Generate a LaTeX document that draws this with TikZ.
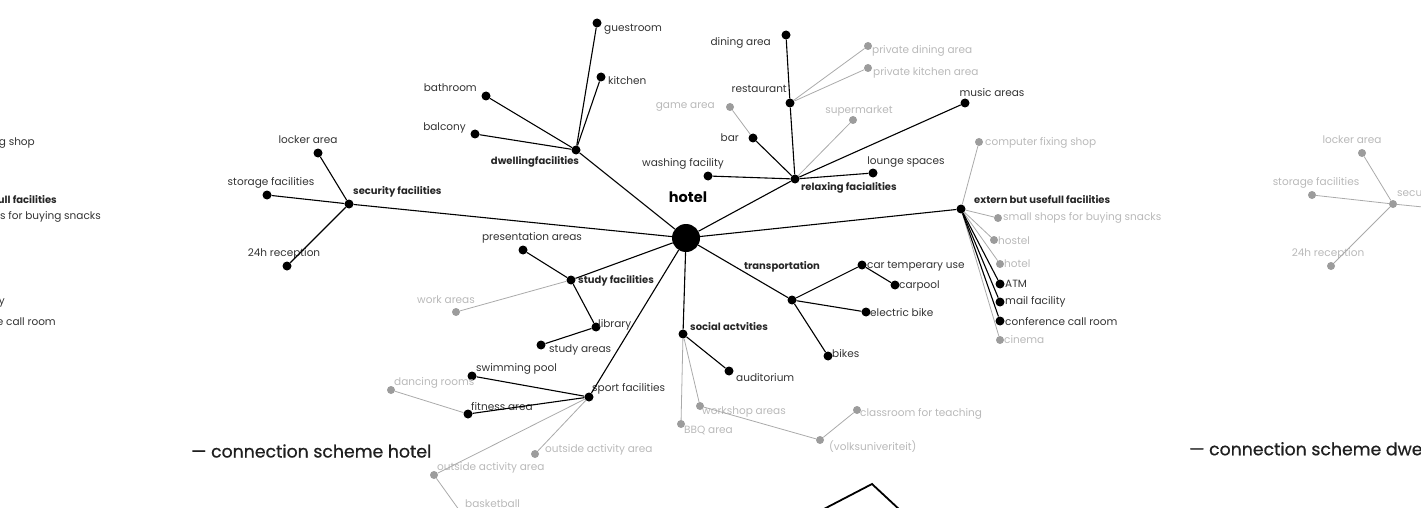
\documentclass[tikz,border=0pt]{standalone}
\usepackage{fontspec}
\setmainfont{Poppins}
\newfontfamily\titlefont{Poppins}[FakeBold=0.6]
\usetikzlibrary{positioning}
\definecolor{inkgray}{HTML}{333333}
\definecolor{palegray}{HTML}{B9B9B9}
\definecolor{dotgray}{HTML}{9C9C9C}
\definecolor{linegray}{HTML}{AAAAAA}

\begin{document}
\begin{tikzpicture}[x=1pt,y=-1pt,
    hub/.style={circle, fill=black, inner sep=0pt, minimum size=28pt},
    dot/.style={circle, fill=black, inner sep=0pt, minimum size=9pt},
    gdot/.style={circle, fill=dotgray, inner sep=0pt, minimum size=8pt},
    txt/.style={font=\fontsize{10.5}{12}\selectfont, text=inkgray, inner sep=0pt},
    gtxt/.style={txt, text=palegray},
    head/.style={font=\bfseries\fontsize{10}{12}\selectfont, text=black!85, inner sep=0pt},
    title/.style={font=\titlefont\fontsize{17.3}{20}\selectfont, text=black!88, inner sep=0pt},
    link/.style={line width=1.1pt, black},
    glink/.style={line width=0.8pt, linegray}
]
\useasboundingbox (0,0) rectangle (1421,508);
\clip (0,0) rectangle (1421,508);

% Left panel (cut off)
\node[txt, anchor=east] (lcomp) at (35,143) {computer fixing shop};
\node[head, anchor=east] (lext) at (57,200) {extern but usefull facilities};
\node[txt, anchor=east] (lsnack) at (101,217) {small shops for buying snacks};
\node[txt, anchor=east] (lmail) at (5,302) {mail facility};
\node[txt, anchor=east] (lconf) at (56,322) {conference call room};

% Hotel
\node[hub] (hotel) at (686,238) {};
\node[font=\bfseries\fontsize{14.5}{16}\selectfont, inner sep=0pt] (lhotel) at (688,197) {hotel};

% Security facilities
\node[dot] (sec) at (349,204) {};
\node[dot] (locker) at (318,153) {};
\node[dot] (storage) at (267,195) {};
\node[dot] (recep) at (287,266) {};
\node[head, anchor=west] (lsec) at (353,192) {security facilities};
\node[txt] (llocker) at (308,140) {locker area};
\node[txt] (lstorage) at (271,183) {storage facilities};
\node[txt] (lrecep) at (284,254) {24h reception};

% Dwelling facilities
\node[dot] (dwell) at (576,150) {};
\node[dot] (guest) at (597,23) {};
\node[dot] (kitchen) at (601,77) {};
\node[dot] (bath) at (486,96) {};
\node[dot] (balcony) at (475,134) {};
\node[head] (ldwell) at (535,162) {dwellingfacilities};
\node[txt, anchor=west] (lguest) at (604,29) {guestroom};
\node[txt, anchor=west] (lkitchen) at (608,81) {kitchen};
\node[txt, anchor=east] (lbath) at (477,88) {bathroom};
\node[txt, anchor=east] (lbalcony) at (466,128) {balcony};

% Relaxing facilities
\node[dot] (relax) at (795,179) {};
\node[dot] (rest) at (790,103) {};
\node[dot] (dining) at (786,35) {};
\node[gdot] (pdining) at (868,46) {};
\node[gdot] (pkitchen) at (868,68) {};
\node[gdot] (game) at (730,107) {};
\node[dot] (bar) at (753,138) {};
\node[gdot] (super) at (853,120) {};
\node[dot] (music) at (965,103) {};
\node[dot] (lounge) at (873,173) {};
\node[dot] (washing) at (708,176) {};
\node[head, anchor=west] (lrelax) at (801,188) {relaxing facialities};
\node[txt, anchor=east] (lrest) at (787,89) {restaurant};
\node[txt, anchor=east] (ldining) at (771,43) {dining area};
\node[gtxt, anchor=west] (lpdining) at (872,51) {private dining area};
\node[gtxt, anchor=west] (lpkitchen) at (873,73) {private kitchen area};
\node[gtxt, anchor=east] (lgame) at (715,107) {game area};
\node[txt, anchor=east] (lbar) at (739,138) {bar};
\node[gtxt] (lsuper) at (859,111) {supermarket};
\node[txt] (lmusic) at (992,93) {music areas};
\node[txt] (llounge) at (906,162) {lounge spaces};
\node[txt] (lwashing) at (683,164) {washing facility};

% Extern but usefull facilities
\node[dot] (ext) at (961,209) {};
\node[gdot] (comp) at (979,142) {};
\node[gdot] (snack) at (998,218) {};
\node[gdot] (hostel) at (994,240) {};
\node[gdot] (hotel2) at (1000,264) {};
\node[dot] (atm) at (1000,284) {};
\node[dot] (mail) at (1000,302) {};
\node[dot] (conf) at (1000,321) {};
\node[gdot] (cinema) at (1000,340) {};
\node[head, anchor=west] (lext2) at (974,200) {extern but usefull facilities};
\node[gtxt, anchor=west] (lcomp2) at (985,143) {computer fixing shop};
\node[gtxt, anchor=west] (lsnack2) at (1003,218) {small shops for buying snacks};
\node[gtxt, anchor=west] (lhostel) at (998,241) {hostel};
\node[gtxt, anchor=west] (lhotel2) at (1004,264) {hotel};
\node[txt, anchor=west] (latm) at (1005,284) {ATM};
\node[txt, anchor=west] (lmail2) at (1005,302) {mail facility};
\node[txt, anchor=west] (lconf2) at (1005,322) {conference call room};
\node[gtxt, anchor=west] (lcinema) at (1004,340) {cinema};

% Study facilities
\node[dot] (study) at (571,280) {};
\node[dot] (present) at (523,250) {};
\node[gdot] (work) at (456,312) {};
\node[dot] (library) at (596,327) {};
\node[dot] (studyar) at (541,345) {};
\node[head, anchor=west] (lstudy) at (578,281) {study facilities};
\node[txt] (lpresent) at (532,238) {presentation areas};
\node[gtxt] (lwork) at (446,300) {work areas};
\node[txt, anchor=west] (llibrary) at (598,325) {library};
\node[txt, anchor=west] (lstudyar) at (549,350) {study areas};

% Sport facilities
\node[dot] (sport) at (589,397) {};
\node[dot] (swim) at (472,376) {};
\node[dot] (fitness) at (468,414) {};
\node[gdot] (dancing) at (391,390) {};
\node[gdot] (outside1) at (535,454) {};
\node[gdot] (outside2) at (434,475) {};
\node[gdot] (basket) at (462,514) {};
\node[txt, anchor=west] (lsport) at (592,389) {sport facilities};
\node[txt, anchor=west] (lswim) at (476,369) {swimming pool};
\node[txt, anchor=west] (lfitness) at (471,407) {fitness area};
\node[gtxt, anchor=west] (ldancing) at (394,383) {dancing rooms};
\node[gtxt, anchor=west] (loutside1) at (545,450) {outside activity area};
\node[gtxt, anchor=west] (loutside2) at (437,468) {outside activity area};
\node[gtxt, anchor=west] (lbasket) at (465,504) {basketball};

% Social activities
\node[dot] (social) at (683,334) {};
\node[dot] (audit) at (729,371) {};
\node[gdot] (bbq) at (681,424) {};
\node[gdot] (workshop) at (700,406) {};
\node[gdot] (volks) at (820,440) {};
\node[gdot] (classroom) at (857,410) {};
\node[head, anchor=west] (lsocial) at (690,327) {social actvities};
\node[txt, anchor=west] (laudit) at (736,378) {auditorium};
\node[gtxt, anchor=west] (lbbq) at (684,430) {BBQ area};
\node[gtxt, anchor=west] (lworkshop) at (702,412) {workshop areas};
\node[gtxt, anchor=west] (lvolks) at (829,447) {(volksuniveriteit)};
\node[gtxt, anchor=west] (lclassroom) at (860,414) {classroom for teaching};

% Transportation
\node[dot] (transp) at (792,300) {};
\node[dot] (car) at (862,265) {};
\node[dot] (carpool) at (895,285) {};
\node[dot] (ebike) at (866,312) {};
\node[dot] (bikes) at (828,356) {};
\node[head] (ltransp) at (782,267) {transportation};
\node[txt, anchor=west] (lcar) at (867,266) {car temperary use};
\node[txt, anchor=west] (lcarpool) at (899,286) {carpool};
\node[txt, anchor=west] (lebike) at (870,313) {electric bike};
\node[txt, anchor=west] (lbikes) at (832,354) {bikes};

% Right panel (cut off)
\coordinate (hotel3) at (1730,238);
\node[gdot] (sec2) at (1393,204) {};
\node[gdot] (locker2) at (1362,153) {};
\node[gdot] (storage2) at (1312,195) {};
\node[gdot] (recep2) at (1331,266) {};
\node[gtxt, anchor=west] (lsec2) at (1397,194) {security facilities};
\node[gtxt] (llocker2) at (1352,140) {locker area};
\node[gtxt] (lstorage2) at (1316,183) {storage facilities};
\node[gtxt] (lrecep2) at (1328,254) {24h reception};

% Titles
\node[title, anchor=west] (title1) at (191,451) {— connection scheme hotel};
\node[title, anchor=west] (title2) at (1189,451) {— connection scheme dwelling facilities};

% Connections
\foreach \a in {sec,dwell,relax,ext,study,sport,social,transp}
    \draw[link] (hotel) -- (\a);
\foreach \a in {locker,storage,recep}
    \draw[link] (sec) -- (\a);
\foreach \a in {guest,kitchen,bath,balcony}
    \draw[link] (dwell) -- (\a);
\foreach \a in {rest,bar,music,lounge,washing}
    \draw[link] (relax) -- (\a);
\draw[link] (rest) -- (dining);
\draw[glink] (rest) -- (pdining);
\draw[glink] (rest) -- (pkitchen);
\draw[glink] (bar) -- (game);
\draw[glink] (relax) -- (super);
\foreach \a in {comp,snack,hostel,hotel2,cinema}
    \draw[glink] (ext) -- (\a);
\foreach \a in {atm,mail,conf}
    \draw[link] (ext) -- (\a);
\draw[link] (study) -- (present);
\draw[glink] (study) -- (work);
\draw[link] (study) -- (library);
\draw[link] (library) -- (studyar);
\draw[link] (sport) -- (swim);
\draw[link] (sport) -- (fitness);
\draw[glink] (fitness) -- (dancing);
\draw[glink] (sport) -- (outside1);
\draw[glink] (sport) -- (outside2);
\draw[glink] (outside2) -- (basket);
\draw[link] (social) -- (audit);
\draw[glink] (social) -- (bbq);
\draw[glink] (social) -- (workshop);
\draw[glink] (workshop) -- (volks);
\draw[glink] (volks) -- (classroom);
\draw[link] (transp) -- (car);
\draw[link] (car) -- (carpool);
\draw[link] (transp) -- (ebike);
\draw[link] (transp) -- (bikes);
\foreach \a in {locker2,storage2,recep2}
    \draw[glink] (sec2) -- (\a);
\draw[glink] (sec2) -- (hotel3);

% Frame at the bottom
\draw[line width=1.8pt] (822,510) -- (872,484) -- (901,511);
\end{tikzpicture}
\end{document}
